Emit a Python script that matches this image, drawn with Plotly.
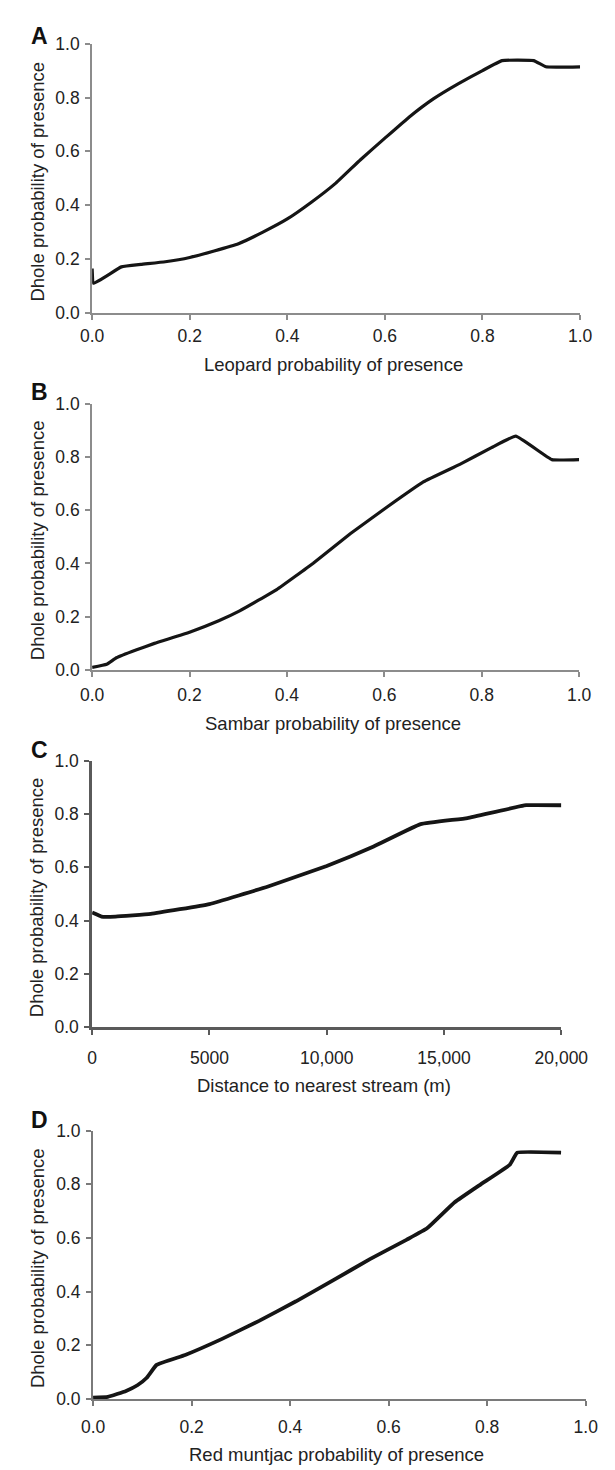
import plotly.graph_objects as go

# ---------------- data ----------------
leopard_x = [0.0, 0.003, 0.06, 0.10, 0.15, 0.20, 0.25, 0.30, 0.35, 0.40, 0.45, 0.50,
             0.55, 0.60, 0.65, 0.70, 0.75, 0.80, 0.84, 0.905, 0.93, 1.0]
leopard_y = [0.165, 0.11, 0.171, 0.18, 0.19, 0.206, 0.23, 0.257, 0.30, 0.349, 0.412, 0.483,
             0.569, 0.649, 0.728, 0.796, 0.851, 0.90, 0.937, 0.937, 0.914, 0.914]

sambar_x = [0.0, 0.03, 0.05, 0.09, 0.128, 0.20, 0.26, 0.303, 0.379, 0.454, 0.53,
            0.605, 0.68, 0.755, 0.82, 0.87, 0.944, 1.0]
sambar_y = [0.01, 0.022, 0.046, 0.075, 0.10, 0.142, 0.185, 0.222, 0.302, 0.401, 0.512,
            0.611, 0.706, 0.772, 0.835, 0.878, 0.79, 0.79]

stream_x = [0, 400, 1000, 2500, 5000, 7500, 10000, 12000, 14000, 16000, 18500, 20000]
stream_y = [0.43, 0.415, 0.415, 0.425, 0.462, 0.528, 0.605, 0.678, 0.762, 0.785, 0.833, 0.833]

muntjac_x = [0.0, 0.03, 0.067, 0.09, 0.109, 0.129, 0.187, 0.262, 0.337, 0.412, 0.487, 0.562,
             0.637, 0.678, 0.734, 0.787, 0.846, 0.861, 0.95]
muntjac_y = [0.005, 0.008, 0.03, 0.051, 0.079, 0.127, 0.164, 0.224, 0.291, 0.364, 0.442, 0.521,
             0.594, 0.636, 0.733, 0.80, 0.873, 0.918, 0.918]

panel_letters = ["A", "B", "C", "D"]
x_titles = ["Leopard probability of presence", "Sambar probability of presence",
            "Distance to nearest stream (m)", "Red muntjac probability of presence"]
y_title = "Dhole probability of presence"
prob_ticks = [0.0, 0.2, 0.4, 0.6, 0.8, 1.0]
prob_ticktext = ["0.0", "0.2", "0.4", "0.6", "0.8", "1.0"]
dist_ticks = [0, 5000, 10000, 15000, 20000]
dist_ticktext = ["0", "5000", "10,000", "15,000", "20,000"]

# ---------------- layout geometry (pixels) ----------------
W, H = 615, 1470
panels = [
    dict(x0=77, x1=598, yt=26, yb=299, stand=1, ty=351, ly=18, lw=3.2, col="#8c8c8c", aw=2),
    dict(x0=77, x1=597, yt=391, yb=661, stand=3, ty=715, ly=379, lw=3.2, col="#8c8c8c", aw=2),
    dict(x0=77, x1=578, yt=753, yb=1023, stand=8, ty=1082, ly=742, lw=3.8, col="#5a5a5a", aw=2.6),
    dict(x0=78, x1=604, yt=1128, yb=1400, stand=6, ty=1456, ly=1117, lw=3.8, col="#7a7a7a", aw=2.2),
]

series = [(leopard_x, leopard_y), (sambar_x, sambar_y), (stream_x, stream_y), (muntjac_x, muntjac_y)]

FONT = "Liberation Sans, Arial, sans-serif"
TXT = "#222222"
TICK_SIZE = 17.5
TITLE_SIZE = 18.5

fig = go.Figure()
layout = dict(width=W, height=H, margin=dict(l=0, r=0, t=0, b=0),
              paper_bgcolor="white", plot_bgcolor="white", showlegend=False,
              font=dict(family=FONT, color=TXT))
annotations = []

for i, (p, (sx, sy)) in enumerate(zip(panels, series)):
    n = i + 1
    xa = "xaxis" if n == 1 else f"xaxis{n}"
    ya = "yaxis" if n == 1 else f"yaxis{n}"
    xr = "x" if n == 1 else f"x{n}"
    yr = "y" if n == 1 else f"y{n}"
    fig.add_trace(go.Scatter(x=sx, y=sy, mode="lines", xaxis=xr, yaxis=yr,
                             line=dict(color="#151515", width=p["lw"], shape="spline",
                                       smoothing=0.3),
                             hoverinfo="skip"))
    is_dist = (i == 2)
    layout[xa] = dict(
        domain=[p["x0"] / W, p["x1"] / W], anchor=yr,
        range=[0, 20000] if is_dist else [0, 1],
        tickmode="array",
        tickvals=dist_ticks if is_dist else prob_ticks,
        ticktext=dist_ticktext if is_dist else prob_ticktext,
        showline=True, linecolor=p["col"], linewidth=p["aw"],
        ticks="outside", ticklen=5, tickwidth=1.5, tickcolor=p["col"],
        showgrid=False, zeroline=False, fixedrange=True,
        tickfont=dict(size=TICK_SIZE, color=TXT, family=FONT),
        ticklabelstandoff=p["stand"],
    )
    layout[ya] = dict(
        domain=[1 - p["yb"] / H, 1 - p["yt"] / H], anchor=xr,
        range=[0, 1], tickmode="array", tickvals=prob_ticks, ticktext=prob_ticktext,
        showline=True, linecolor=p["col"], linewidth=p["aw"],
        ticks="outside", ticklen=5, tickwidth=1.5, tickcolor=p["col"],
        showgrid=False, zeroline=False, fixedrange=True,
        tickfont=dict(size=TICK_SIZE, color=TXT, family=FONT),
        ticklabelstandoff=2,
    )
    # x-axis title
    annotations.append(dict(text=x_titles[i], xref="paper", yref="paper",
                            x=((p["x0"] + p["x1"]) / 2 - 3) / W, y=1 - p["ty"] / H,
                            xanchor="center", yanchor="middle", showarrow=False,
                            font=dict(size=TITLE_SIZE, color=TXT, family=FONT)))
    # y-axis title
    annotations.append(dict(text=y_title, xref="paper", yref="paper",
                            x=18.5 / W, y=1 - ((p["yt"] + p["yb"]) / 2 + 3) / H,
                            xanchor="center", yanchor="middle", textangle=-90, showarrow=False,
                            font=dict(size=TITLE_SIZE, color=TXT, family=FONT)))
    # panel letter
    annotations.append(dict(text=f"<b>{panel_letters[i]}</b>", xref="paper", yref="paper",
                            x=20.5 / W, y=1 - p["ly"] / H,
                            xanchor="center", yanchor="middle", showarrow=False,
                            font=dict(size=23, color="#111111", family=FONT)))

layout["annotations"] = annotations
fig.update_layout(**layout)
fig.write_html("out.html")
